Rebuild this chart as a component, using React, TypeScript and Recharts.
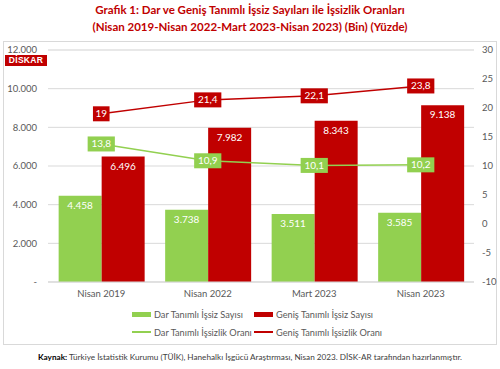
import { ComposedChart, Bar, Line, XAxis, YAxis, CartesianGrid, Legend, LabelList } from 'recharts';

const periods = ['Nisan 2019', 'Nisan 2022', 'Mart 2023', 'Nisan 2023'];
const darSayisi = [4458, 3738, 3511, 3585];
const genisSayisi = [6496, 7982, 8343, 9138];
const darOrani = [13.8, 10.9, 10.1, 10.2];
const genisOrani = [19, 21.4, 22.1, 23.8];

const leftTicks = [0, 2000, 4000, 6000, 8000, 10000, 12000];
const rightTicks = [-10, -5, 0, 5, 10, 15, 20, 25, 30];
const minorTicks = Array.from({ length: 41 }, (_, i) => i - 10);

const legendOrder = [
  'Dar Tanımlı İşsiz Sayısı',
  'Geniş Tanımlı İşsiz Sayısı',
  'Dar Tanımlı İşsizlik Oranı',
  'Geniş Tanımlı İşsizlik Oranı',
];

const GREEN = '#92D050';
const RED = '#C00000';
const FONT = 'Lato, "Open Sans", sans-serif';

const data = periods.map((p, i) => ({
  period: p,
  dar: darSayisi[i],
  genis: genisSayisi[i],
  darOran: darOrani[i],
  genisOran: genisOrani[i],
}));

const fmtThousands = (v: number) => (v === 0 ? '-' : String(v).replace(/\B(?=(\d{3})+(?!\d))/g, '.'));
const fmtRate = (v: number) => String(v).replace('.', ',');

const boxLabel = (fill: string) => (props: any) => {
  const { x, y, value } = props;
  const text = fmtRate(value);
  const w = text.length * 5.3 + 6;
  return (
    <g>
      <rect x={x - w / 2} y={y - 7.5} width={w} height={15} fill={fill} />
      <text x={x} y={y + 3.5} textAnchor="middle" fill="#fff" fontSize={10} fontFamily={FONT}>
        {text}
      </text>
    </g>
  );
};

const renderLegend = (props: any) => {
  const items = [...(props.payload || [])].sort(
    (a: any, b: any) => legendOrder.indexOf(a.value) - legendOrder.indexOf(b.value)
  );
  return (
    <div style={{ position: 'relative', width: 500, height: 36, fontFamily: FONT, fontSize: 9.2, color: '#595959' }}>
      {items.map((entry: any, i: number) => {
        const col = i % 2;
        const row = Math.floor(i / 2);
        const isLine = entry.type === 'line';
        return (
          <div
            key={i}
            style={{ position: 'absolute', left: col === 0 ? 132 : 254, top: row * 18, height: 16, display: 'flex', alignItems: 'center', whiteSpace: 'nowrap' }}
          >
            <span style={{ display: 'inline-block', width: 19, height: isLine ? 1.5 : 5, background: entry.color, marginRight: 3 }} />
            <span>{entry.value}</span>
          </div>
        );
      })}
    </div>
  );
};

export default function App() {
  return (
    <div style={{ position: 'absolute', left: 0, top: 0, width: 500, height: 369, background: '#fff', fontFamily: FONT }}>
      <div style={{ position: 'absolute', top: 1, left: 0, width: 500, textAlign: 'center', color: RED, fontWeight: 700, fontSize: 11.5, lineHeight: '17px' }}>
        <div>Grafik 1: Dar ve Geniş Tanımlı İşsiz Sayıları ile İşsizlik Oranları</div>
        <div>(Nisan 2019-Nisan 2022-Mart 2023-Nisan 2023) (Bin) (Yüzde)</div>
      </div>
      <div style={{ position: 'absolute', left: 3, top: 41, width: 492, height: 302, border: '1px solid #d9d9d9' }} />
      <div style={{ position: 'absolute', left: 0, top: 0 }}>
        <ComposedChart width={500} height={369} data={data} margin={{ top: 50, right: 4, bottom: 25, left: 8 }} barGap={0} barCategoryGap="10%">
          <CartesianGrid yAxisId="minor" vertical={false} stroke="#efefef" />
          <CartesianGrid yAxisId="left" vertical={false} stroke="#d9d9d9" />
          <XAxis
            dataKey="period"
            tickLine={false}
            axisLine={{ stroke: '#d9d9d9' }}
            tick={{ fill: '#595959', fontSize: 9.5, fontFamily: FONT }}
            height={26}
          />
          <YAxis
            yAxisId="left"
            domain={[0, 12000]}
            ticks={leftTicks}
            tickFormatter={fmtThousands}
            axisLine={false}
            tickLine={false}
            tickMargin={5}
            width={40}
            tick={{ fill: '#595959', fontSize: 9.5, fontFamily: FONT }}
          />
          <YAxis
            yAxisId="right"
            orientation="right"
            domain={[-10, 30]}
            ticks={rightTicks}
            axisLine={false}
            tickLine={false}
            width={22}
            tick={{ fill: '#595959', fontSize: 9.5, fontFamily: FONT }}
          />
          <YAxis yAxisId="minor" hide domain={[-10, 30]} ticks={minorTicks} />
          <Legend verticalAlign="bottom" content={renderLegend} wrapperStyle={{ left: 0, top: 306 }} />
          <Bar yAxisId="left" dataKey="dar" name="Dar Tanımlı İşsiz Sayısı" fill={GREEN} isAnimationActive={false}>
            <LabelList dataKey="dar" position="insideTop" offset={6} fill="#fff" fontSize={10} fontFamily={FONT} formatter={(v: any) => fmtThousands(v)} />
          </Bar>
          <Bar yAxisId="left" dataKey="genis" name="Geniş Tanımlı İşsiz Sayısı" fill={RED} isAnimationActive={false}>
            <LabelList dataKey="genis" position="insideTop" offset={6} fill="#fff" fontSize={10} fontFamily={FONT} formatter={(v: any) => fmtThousands(v)} />
          </Bar>
          <Line yAxisId="right" dataKey="darOran" name="Dar Tanımlı İşsizlik Oranı" stroke={GREEN} strokeWidth={1.5} dot={false} isAnimationActive={false}>
            <LabelList dataKey="darOran" content={boxLabel(GREEN)} />
          </Line>
          <Line yAxisId="right" dataKey="genisOran" name="Geniş Tanımlı İşsizlik Oranı" stroke={RED} strokeWidth={1.5} dot={false} isAnimationActive={false}>
            <LabelList dataKey="genisOran" content={boxLabel(RED)} />
          </Line>
        </ComposedChart>
      </div>
      <div style={{ position: 'absolute', left: 5, top: 55, width: 42, height: 11, background: RED, color: '#fff', fontWeight: 700, fontSize: 8.5, lineHeight: '11px', textAlign: 'center', letterSpacing: 0.3, fontFamily: '"Liberation Sans", sans-serif' }}>
        DİSKAR
      </div>
      <div style={{ position: 'absolute', left: 0, top: 352, width: 500, textAlign: 'center', fontSize: 8.2, color: '#404040' }}>
        <b style={{ color: '#000' }}>Kaynak:</b> Türkiye İstatistik Kurumu (TÜİK), Hanehalkı İşgücü Araştırması, Nisan 2023. DİSK-AR tarafından hazırlanmıştır.
      </div>
    </div>
  );
}
